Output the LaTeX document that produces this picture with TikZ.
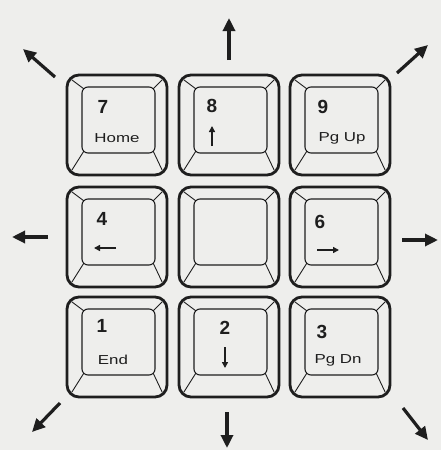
\documentclass[tikz,border=0pt]{standalone}
\usepackage{fontspec}
\setmainfont{Liberation Sans}
\usetikzlibrary{arrows.meta}
\definecolor{paper}{RGB}{238,238,236}
\definecolor{ink}{RGB}{30,30,30}
\newcommand\kcap[3]{%
  \node[keyout] (#1) at (#2+50,#3+50) {};
  \draw[face] (#2+15,#3+12) rectangle (#2+88,#3+78);
  \draw[bevel] (#2+16.8,#3+13.8) -- (#2+4.8,#3+4.8);
  \draw[bevel] (#2+86.2,#3+13.8) -- (#2+95.2,#3+4.8);
  \draw[bevel] (#2+16.8,#3+76.2) -- (#2+4.8,#3+95.2);
  \draw[bevel] (#2+86.2,#3+76.2) -- (#2+95.2,#3+95.2);
}
\newcommand\knum[3]{\node[numtxt] at (#1,#2) {#3};}
\newcommand\klab[3]{\node[labtxt] at (#1,#2) {\scalebox{1.3}[1]{#3}};}
\tikzset{
  keyout/.style={draw=ink, line width=2.8pt, rounded corners=12pt, minimum width=100pt, minimum height=100pt, inner sep=0pt, fill=paper},
  face/.style={draw=ink, line width=1.1pt, rounded corners=6pt},
  bevel/.style={draw=ink, line width=0.9pt},
  numtxt/.style={text=ink, font=\bfseries\fontsize{19}{19}\selectfont, inner sep=0pt},
  labtxt/.style={text=ink, font=\fontsize{13}{13}\selectfont, inner sep=0pt},
  bigarrow/.style={draw=ink, line width=3.2pt, -{Triangle[length=13pt,width=12pt]}},
  smallarrow/.style={draw=ink, line width=2pt, -{Triangle[length=6pt,width=6pt]}}
}
\begin{document}
\begin{tikzpicture}[x=1pt,y=-1pt]
\fill[paper] (0,0) rectangle (441,450);
\useasboundingbox (0,0) rectangle (441,450);
% keys
\kcap{k7}{67}{75}
\kcap{k8}{179}{75}
\kcap{k9}{290}{75}
\kcap{k4}{67}{187}
\kcap{k5}{179}{187}
\kcap{k6}{290}{187}
\kcap{k1}{67}{297}
\kcap{k2}{179}{297}
\kcap{k3}{290}{297}
% labels
\knum{103}{107}{7}
\klab{117}{138}{Home}
\knum{212}{106}{8}
\draw[smallarrow] (212,146) -- (212,126);
\knum{323}{107}{9}
\klab{342}{138}{Pg Up}
\knum{102}{219}{4}
\draw[smallarrow] (116,248) -- (94,248);
\knum{320}{222}{6}
\draw[smallarrow] (317,250) -- (339,250);
\knum{102}{326}{1}
\klab{113}{360}{End}
\knum{225}{328}{2}
\draw[smallarrow] (225,347) -- (225,368);
\knum{322}{332}{3}
\klab{338}{360}{Pg Dn}
% direction arrows
\draw[bigarrow] (55,77) -- (23,49);
\draw[bigarrow] (229,60) -- (229,18);
\draw[bigarrow] (397,73) -- (428,45);
\draw[bigarrow] (48,237) -- (12,237);
\draw[bigarrow] (402,240) -- (438,240);
\draw[bigarrow] (60,403) -- (32,432);
\draw[bigarrow] (227,412) -- (227,448);
\draw[bigarrow] (403,408) -- (428,440);
\end{tikzpicture}
\end{document}
